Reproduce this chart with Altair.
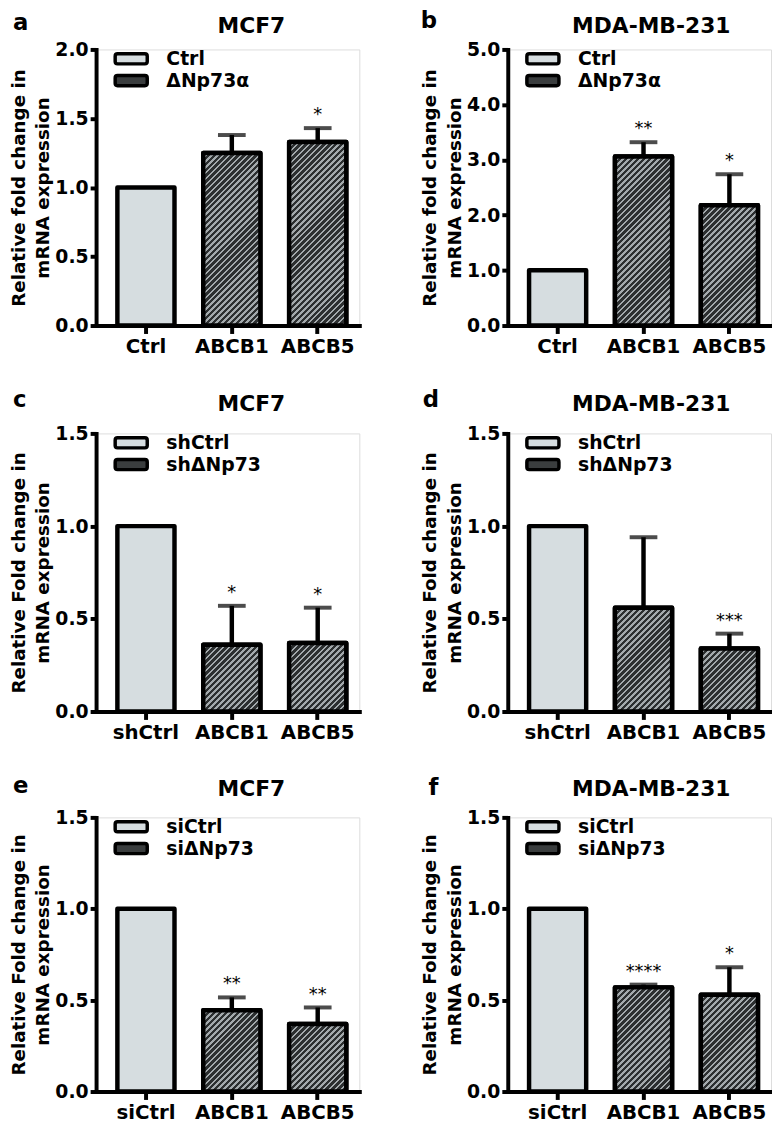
import altair as alt
import pandas as pd

FONT = "DejaVu Sans"

# ---------------- data ----------------
cats_a = ["Ctrl", "ABCB1", "ABCB5"]
vals_a = [1.0, 1.25, 1.33]
errs_a = [0.0, 0.13, 0.10]
sigs_a = ["", "", "*"]
grps_a = ["Ctrl", "ΔNp73α"]

cats_b = ["Ctrl", "ABCB1", "ABCB5"]
vals_b = [1.0, 3.06, 2.18]
errs_b = [0.0, 0.26, 0.56]
sigs_b = ["", "**", "*"]
grps_b = ["Ctrl", "ΔNp73α"]

cats_c = ["shCtrl", "ABCB1", "ABCB5"]
vals_c = [1.0, 0.36, 0.37]
errs_c = [0.0, 0.21, 0.19]
sigs_c = ["", "*", "*"]
grps_c = ["shCtrl", "shΔNp73"]

cats_d = ["shCtrl", "ABCB1", "ABCB5"]
vals_d = [1.0, 0.56, 0.34]
errs_d = [0.0, 0.38, 0.08]
sigs_d = ["", "", "***"]
grps_d = ["shCtrl", "shΔNp73"]

cats_e = ["siCtrl", "ABCB1", "ABCB5"]
vals_e = [1.0, 0.445, 0.37]
errs_e = [0.0, 0.07, 0.09]
sigs_e = ["", "**", "**"]
grps_e = ["siCtrl", "siΔNp73"]

cats_f = ["siCtrl", "ABCB1", "ABCB5"]
vals_f = [1.0, 0.57, 0.53]
errs_f = [0.0, 0.015, 0.15]
sigs_f = ["", "****", "*"]
grps_f = ["siCtrl", "siΔNp73"]

ticks_2 = [0.0, 0.5, 1.0, 1.5, 2.0]
ticks_5 = [0.0, 1.0, 2.0, 3.0, 4.0, 5.0]
ticks_15 = [0.0, 0.5, 1.0, 1.5]

ytitle_1 = ["Relative fold change in", "mRNA expression"]
ytitle_2 = ["Relative Fold change in", "mRNA expression"]

# ---------------- style ----------------
W = 266
PI = 0.335
PO = 0.2
ALIGN = 0.62
STEP = W / (3 - PI + 2 * PO)
BW = STEP * (1 - PI)
SW = 4.5
LIGHT = "#d6dde0"
DARK = "#3a3d3e"
HD = "#2c2f30"
HL = "#a3a9ac"
# legend symbol: wide rounded bar (drawn beyond the unit box on purpose so rows stay tight)
LEG_PATH = ("M-2.3,-0.85 L2.3,-0.85 Q2.7,-0.85 2.7,-0.45 L2.7,0.45 Q2.7,0.85 2.3,0.85 "
            "L-2.3,0.85 Q-2.7,0.85 -2.7,0.45 L-2.7,-0.45 Q-2.7,-0.85 -2.3,-0.85 Z")


def hatch(w, h, period=6.0, dark_w=3.4):
    L = w + h
    stops = []
    s = 0.0
    while s < L:
        a = round(min(s / L, 1), 5)
        b = round(min((s + dark_w) / L, 1), 5)
        c = round(min((s + period) / L, 1), 5)
        stops += [alt.GradientStop(offset=a, color=HD), alt.GradientStop(offset=b, color=HD),
                  alt.GradientStop(offset=b, color=HL), alt.GradientStop(offset=c, color=HL)]
        s += period
    k = (w + h) / (w * w + h * h)
    return alt.LinearGradient(gradient="linear", stops=stops, x1=0, y1=0,
                              x2=round(w * k, 5), y2=round(h * k, 5))


def panel(letter, title, cats, vals, errs, sigs, grps, ymax, ticks, ytitle, H,
          tdx, t_y, l_x, l_y):
    df = pd.DataFrame({"cat": cats, "val": vals, "err": errs, "sig": sigs,
                       "grp": [grps[0]] + [grps[1]] * (len(cats) - 1)})
    df["hi"] = df["val"] + df["err"]

    xaxis = alt.Axis(labelAngle=0, title=None, domainWidth=4, domainColor="black",
                     domainCap="square", tickWidth=4, tickSize=8, tickColor="black",
                     labelFont=FONT, labelFontSize=20, labelFontWeight="bold",
                     labelColor="black", labelPadding=3)
    yaxis = alt.Axis(values=ticks, format=".1f", title=ytitle, grid=False,
                     domainWidth=4, domainColor="black", domainCap="square",
                     tickWidth=4, tickSize=6, tickColor="black",
                     labelFont=FONT, labelFontSize=19, labelFontWeight="bold",
                     labelColor="black", labelPadding=2,
                     titleFont=FONT, titleFontSize=18.5, titleFontWeight="bold",
                     titleColor="black", titleLineHeight=25, titlePadding=2)
    xs = alt.Scale(paddingInner=PI, paddingOuter=PO, align=ALIGN)
    ys = alt.Scale(domain=[0, ymax], nice=False)

    def X():
        return alt.X("cat:N", sort=cats, scale=xs, axis=xaxis)

    def Y(field):
        return alt.Y(field, scale=ys, axis=yaxis, title=ytitle)

    base = alt.Chart(df).mark_bar(stroke="black", strokeWidth=SW, strokeJoin="round").encode(
        x=X(), y=Y("val:Q"),
        fill=alt.Fill("grp:N", scale=alt.Scale(domain=grps, range=[LIGHT, DARK]),
                      legend=alt.Legend(orient="none", legendX=26, legendY=0, title=None,
                                        symbolType=LEG_PATH, symbolSize=144,
                                        symbolStrokeColor="black", symbolStrokeWidth=3.5,
                                        symbolOpacity=1,
                                        labelFont=FONT, labelFontSize=19,
                                        labelFontWeight="bold", labelColor="black",
                                        labelOffset=26, rowPadding=-10,
                                        padding=0, labelLimit=300)))
    layers = [base]
    for c, v in zip(cats[1:], vals[1:]):
        h = v / ymax * H
        layers.append(
            alt.Chart(df).transform_filter(alt.datum.cat == c)
            .mark_bar(fill=hatch(BW, h), stroke="black", strokeWidth=SW, strokeJoin="round")
            .encode(x=X(), y=Y("val:Q")))
    stems = alt.Chart(df).transform_filter("datum.err > 0").mark_rule(
        color="black", strokeWidth=4.5).encode(x=X(), y=Y("val:Q"), y2="hi:Q")
    caps = alt.Chart(df).transform_filter("datum.err > 0").mark_tick(
        color="black", thickness=4, size=28, orient="horizontal").encode(x=X(), y=Y("hi:Q"))
    stars = alt.Chart(df).transform_filter("datum.sig != ''").mark_text(
        font=FONT, fontSize=18, color="black", baseline="middle", dy=-13).encode(
        x=X(), y=Y("hi:Q"), text="sig:N")
    lab = alt.Chart(pd.DataFrame({"t": [letter]})).mark_text(
        font=FONT, fontSize=23, fontWeight="bold", color="black", align="left",
        baseline="alphabetic").encode(x=alt.value(l_x), y=alt.value(l_y), text="t:N")
    ttl = alt.Chart(pd.DataFrame({"t": [title]})).mark_text(
        font=FONT, fontSize=22, fontWeight="bold", color="black", align="center",
        baseline="alphabetic").encode(x=alt.value(W / 2 + tdx), y=alt.value(t_y), text="t:N")
    layers += [stems, caps, stars, lab, ttl]
    return alt.layer(*layers).properties(width=W, height=H)


H1, H2, H3 = 279, 281, 277
pa = panel("a", "MCF7", cats_a, vals_a, errs_a, sigs_a, grps_a, 2.0, ticks_2, ytitle_1, H1, 24, -17, -84, -20)
pb = panel("b", "MDA-MB-231", cats_b, vals_b, errs_b, sigs_b, grps_b, 5.0, ticks_5, ytitle_1, H1, 12, -17, -88, -22)
pc = panel("c", "MCF7", cats_c, vals_c, errs_c, sigs_c, grps_c, 1.5, ticks_15, ytitle_2, H2, 24, -23, -84, -27)
pd_ = panel("d", "MDA-MB-231", cats_d, vals_d, errs_d, sigs_d, grps_d, 1.5, ticks_15, ytitle_2, H2, 12, -23, -86, -27)
pe = panel("e", "MCF7", cats_e, vals_e, errs_e, sigs_e, grps_e, 1.5, ticks_15, ytitle_2, H3, 24, -22, -84, -25)
pf = panel("f", "MDA-MB-231", cats_f, vals_f, errs_f, sigs_f, grps_f, 1.5, ticks_15, ytitle_2, H3, 12, -22, -80, -23)


def row(p1, p2):
    return alt.hconcat(p1, p2, spacing=60).resolve_scale(
        x="independent", y="independent", fill="independent").resolve_legend(fill="independent")


chart = alt.vconcat(row(pa, pb), row(pc, pd_), row(pe, pf), spacing=31).resolve_scale(
    x="independent", y="independent", fill="independent").resolve_legend(
    fill="independent").properties(
    padding={"left": 0, "top": -5, "right": 0, "bottom": 0}).configure_view(
    stroke=None).configure(background="white")

chart.save("out.html", embed_options={"renderer": "svg", "actions": False})
